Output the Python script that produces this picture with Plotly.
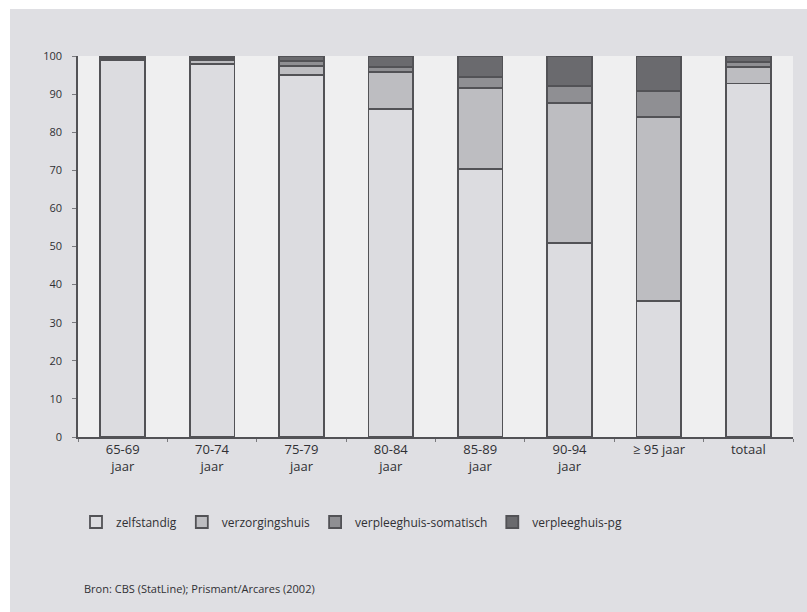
import plotly.graph_objects as go

# Leeftijdsgroepen en woonsituatie (procenten per groep)
categories = ["65-69<br>jaar", "70-74<br>jaar", "75-79<br>jaar", "80-84<br>jaar",
              "85-89<br>jaar", "90-94<br>jaar", "≥ 95 jaar", "totaal"]
zelfstandig = [98.9, 97.9, 95.0, 86.1, 70.3, 51.0, 35.7, 92.8]
verzorgingshuis = [0.5, 1.0, 2.4, 9.7, 21.3, 36.6, 48.2, 4.4]
verpleeghuis_somatisch = [0.3, 0.6, 1.2, 1.4, 2.9, 4.6, 7.0, 1.3]
verpleeghuis_pg = [0.3, 0.5, 1.4, 2.8, 5.5, 7.8, 9.1, 1.5]
y_ticks = [0, 10, 20, 30, 40, 50, 60, 70, 80, 90, 100]

series = [
    ("zelfstandig", zelfstandig, "#dcdce0"),
    ("verzorgingshuis", verzorgingshuis, "#bdbdc1"),
    ("verpleeghuis-somatisch", verpleeghuis_somatisch, "#8f8f93"),
    ("verpleeghuis-pg", verpleeghuis_pg, "#6a6a6e"),
]

fig = go.Figure()
for name, vals, color in series:
    fig.add_trace(go.Bar(
        x=categories, y=vals, name=name,
        marker=dict(color=color, line=dict(color="#525256", width=1.8)),
    ))

W, H = 807, 612
L, R, T, B = 78, 14, 56, 175
pw, ph = W - L - R, H - T - B

def px_x(p):
    return (p - L) / pw

def px_y(p):
    return (H - B - p) / ph

FONT = "Open Sans"
TXT = "#303034"

fig.update_layout(
    width=W, height=H,
    margin=dict(l=L, r=R, t=T, b=B, pad=0),
    barmode="stack", bargap=0.5,
    paper_bgcolor="#dfdfe3", plot_bgcolor="#efeff0",
    font=dict(family=FONT, size=12, color=TXT),
    showlegend=True,
    legend=dict(
        orientation="h", x=px_x(76), y=px_y(522), xanchor="left", yanchor="middle",
        font=dict(family=FONT, size=12, color=TXT), itemwidth=30,
        bgcolor="rgba(0,0,0,0)", traceorder="normal",
    ),
    xaxis=dict(
        range=[-0.5, 7.5], showline=True, linecolor="#525256", linewidth=1.5,
        ticks="outside", tickson="boundaries", ticklen=3, tickcolor="#7a7a7e",
        tickfont=dict(family=FONT, size=13, color=TXT), showgrid=False,
        fixedrange=True,
    ),
    yaxis=dict(
        range=[0, 100], tickvals=y_ticks, showline=True, linecolor="#525256",
        linewidth=1.5, ticks="outside", ticklen=4, tickcolor="#7a7a7e",
        tickfont=dict(family=FONT, size=11, color=TXT), showgrid=False,
        zeroline=False, ticklabelstandoff=8,
    ),
    shapes=[
        # witte rand links en boven
        dict(type="rect", xref="paper", yref="paper", layer="above",
             x0=px_x(0), x1=px_x(10), y0=px_y(H), y1=px_y(0),
             fillcolor="white", line=dict(width=0)),
        dict(type="rect", xref="paper", yref="paper", layer="above",
             x0=px_x(0), x1=px_x(W), y0=px_y(9), y1=px_y(0),
             fillcolor="white", line=dict(width=0)),
    ],
    annotations=[
        dict(text="Bron: CBS (StatLine); Prismant/Arcares (2002)",
             xref="paper", yref="paper", x=px_x(82), y=px_y(588),
             xanchor="left", yanchor="middle", showarrow=False,
             font=dict(family=FONT, size=11, color=TXT)),
    ],
)

fig.write_html("out.html")
